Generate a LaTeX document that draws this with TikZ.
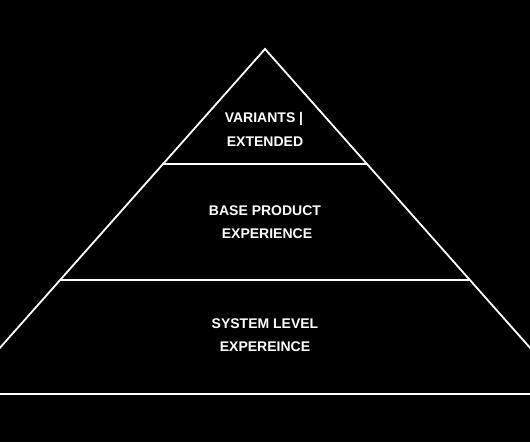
\documentclass[tikz,border=0pt]{standalone}
\usepackage{fontspec}
\setmainfont{Liberation Sans}
\begin{document}
\begin{tikzpicture}[x=1pt,y=-1pt,
  edge/.style={draw=white,line width=1.8pt},
  label/.style={text=white,font=\fontsize{14}{16}\selectfont\bfseries,inner sep=0pt,anchor=center}]
\fill[black] (0,0) rectangle (530,442);
\useasboundingbox (0,0) rectangle (530,442);
\coordinate (apex) at (265,49);
\coordinate (bl) at (-41,394);
\coordinate (br) at (571,394);
\coordinate (l1) at (163,164);
\coordinate (r1) at (367,164);
\coordinate (l2) at (60,280);
\coordinate (r2) at (470,280);
\coordinate (b0) at (0,394);
\coordinate (b1) at (530,394);
\begin{scope}
\clip (0,0) rectangle (530,442);
\draw[edge,line join=miter] (bl) -- (apex) -- (br);
\draw[edge] (l1) -- (r1);
\draw[edge] (l2) -- (r2);
\draw[edge] (b0) -- (b1);
\end{scope}
\node[label] (t1a) at (264,119) {VARIANTS |};
\node[label] (t1b) at (265,142) {EXTENDED};
\node[label] (t2a) at (265,211) {BASE PRODUCT};
\node[label] (t2b) at (267,234) {EXPERIENCE};
\node[label] (t3a) at (265,324) {SYSTEM LEVEL};
\node[label] (t3b) at (265,347) {EXPEREINCE};
\end{tikzpicture}
\end{document}
